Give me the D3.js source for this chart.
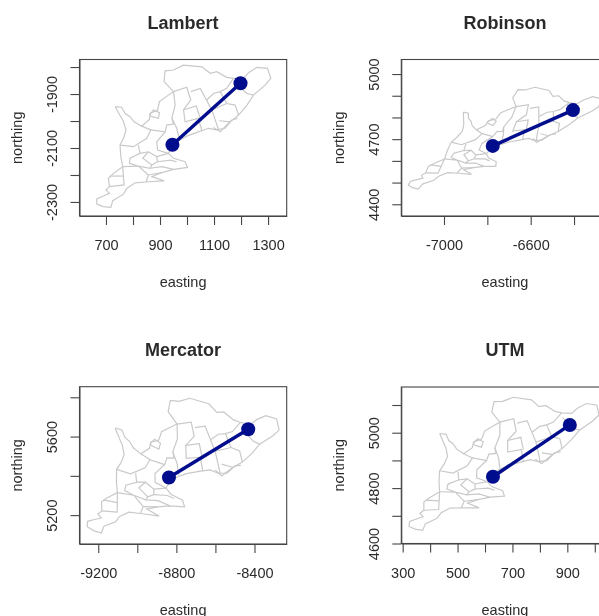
<!DOCTYPE html>
<html>
<head>
<meta charset="utf-8">
<script src="https://cdn.jsdelivr.net/npm/d3@7"></script>
<style>
html, body { margin: 0; padding: 0; background: #fff; overflow: hidden; }
text { font-family: "Liberation Sans", Arial, sans-serif; fill: #2b2b2b; }
</style>
</head>
<body>
<svg id="viz" width="599" height="616"></svg>
<script>
// map, in km (easting, northing)
var coast = [[734,-1947],[758,-1949],[771,-1972],[789,-1984],[804,-2003],[832,-2019],[861,-1994],[863,-1972],[891,-1959],[898,-1928],[931,-1904],[950,-1891],[915,-1854],[919,-1814],[950,-1811],[987,-1793],[1055,-1799],[1086,-1823],[1110,-1817],[1147,-1838],[1172,-1842],[1209,-1842],[1228,-1821],[1259,-1801],[1298,-1805],[1310,-1842],[1289,-1867],[1246,-1904],[1222,-1941],[1191,-1978],[1160,-2003],[1141,-2027],[1110,-2033],[1080,-2027],[1042,-2040],[999,-2056],[968,-2073],[946,-2088],[931,-2120],[950,-2138],[993,-2151],[1002,-2172],[950,-2179],[907,-2191],[870,-2206],[915,-2222],[857,-2225],[808,-2229],[777,-2250],[765,-2271],[725,-2295],[718,-2320],[690,-2317],[666,-2308],[666,-2289],[690,-2278],[713,-2268],[700,-2256],[713,-2243],[709,-2212],[728,-2194],[762,-2169],[755,-2132],[752,-2089],[765,-2064],[774,-2033],[765,-2003],[734,-1947]]
var borders = [
    [[752,-2089],[802,-2095],[851,-2064],[866,-2033],[832,-2019]],
    [[866,-2033],[919,-2040],[925,-2015],[950,-2011],[944,-1990],[956,-1941],[950,-1891]],
    [[950,-1891],[999,-1875],[1014,-1922],[987,-1959],[993,-2003],[1042,-1990],[1055,-2036]],
    [[1014,-1891],[1049,-1879],[1092,-1959],[1117,-2033]],
    [[944,-1990],[962,-2027],[972,-2068]],
    [[987,-1959],[1034,-1944],[1049,-1990]],
    [[1073,-1922],[1098,-1898],[1123,-1891],[1147,-1879],[1172,-1842]],
    [[1123,-1891],[1147,-1935],[1178,-1941],[1191,-1978]],
    [[1092,-1959],[1147,-1935]],
    [[1119,-1999],[1160,-2003]],
    [[1178,-1860],[1222,-1898],[1246,-1904]],
    [[820,-2089],[826,-2120],[789,-2138],[787,-2157],[820,-2167],[762,-2169]],
    [[820,-2167],[857,-2200],[849,-2225]],
    [[826,-2120],[857,-2114],[888,-2132],[891,-2151],[870,-2163],[863,-2175],[820,-2167]],
    [[888,-2132],[931,-2120]],
    [[891,-2151],[938,-2145],[962,-2151]],
    [[863,-2175],[907,-2169],[950,-2179]],
    [[857,-2200],[907,-2191]],
    [[762,-2169],[767,-2237],[713,-2243]],
    [[715,-2204],[765,-2204]],
    [[857,-2114],[836,-2138],[870,-2163]],
    [[919,-2040],[888,-2077],[891,-2108],[931,-2120]],
    [[861,-1978],[876,-1959],[898,-1969],[894,-1990],[870,-1984],[861,-1978]],
    [[1098,-2024],[1123,-2040],[1138,-2024],[1166,-1996],[1187,-1990]]
]
// west tip, east tip, top of the map in the Lambert panel
var lambertAnchors = [[666,-2299],[1310,-1842],[987,-1793]]

var lambertLimitsX = [602,1369]
var lambertLimitsY = [-2352,-1772]
var lambertTicksX = [700,800,900,1000,1100,1200,1300]
var lambertTicksY = [-2300,-2200,-2100,-2000,-1900,-1800]
var lambertLabelsX = [700,900,1100,1300]
var lambertLabelsY = [-2300,-2100,-1900]
var lambertPoints = [[946,-2088],[1198,-1860]]

var robinsonLimitsX = [-7197,-6241]
var robinsonLimitsY = [4346,5067]
var robinsonTicksX = [-7000,-6800,-6600,-6400]
var robinsonTicksY = [4400,4500,4600,4700,4800,4900,5000]
var robinsonLabelsX = [-7000,-6600]
var robinsonLabelsY = [4400,4700,5000]
var robinsonPoints = [[-6775,4669],[-6405,4834]]
var robinsonAnchors = [[-7160,4497],[-6285,4850],[-6580,4939]]

var mercatorLimitsX = [-9296,-8235]
var mercatorLimitsY = [5053,5854]
var mercatorTicksX = [-9200,-9000,-8800,-8600,-8400]
var mercatorTicksY = [5200,5400,5600,5800]
var mercatorLabelsX = [-9200,-8800,-8400]
var mercatorLabelsY = [5200,5600]
var mercatorPoints = [[-8838,5392],[-8432,5637]]
var mercatorAnchors = [[-9256,5154],[-8274,5633],[-8731,5795]]

var utmLimitsX = [295,1050]
var utmLimitsY = [4600,5165]
var utmTicksX = [300,400,500,600,700,800,900,1000]
var utmTicksY = [4600,4700,4800,4900,5000,5100]
var utmLabelsX = [300,500,700,900]
var utmLabelsY = [4600,4800,5000]
var utmPoints = [[629,4841],[909,5028]]
var utmAnchors = [[324,4670],[1015,5064],[703,5128]]

var vizSVG = d3.select("#viz")

var defs = vizSVG.append("defs")
defs.append("filter").attr("id", "soft")
    .attr("x", "-5%").attr("y", "-5%").attr("width", "110%").attr("height", "110%")
    .append("feGaussianBlur").attr("stdDeviation", 0.45)

// returns a function taking a Lambert point to this panel's projection,
// fitted on the three anchors
function fitProjection(to) {
    var a = lambertAnchors
    var ux = a[1][0]-a[0][0], uy = a[1][1]-a[0][1]
    var vx = a[2][0]-a[0][0], vy = a[2][1]-a[0][1]
    var det = ux*vy - vx*uy
    return function(p) {
        var dx = p[0]-a[0][0], dy = p[1]-a[0][1]
        var s = (dx*vy - vx*dy)/det
        var t = (ux*dy - dx*uy)/det
        return [to[0][0] + s*(to[1][0]-to[0][0]) + t*(to[2][0]-to[0][0]),
                to[0][1] + s*(to[1][1]-to[0][1]) + t*(to[2][1]-to[0][1])]
    }
}

function drawPanel(title, box, limitsX, limitsY, ticksX, ticksY, labelsX, labelsY, points, anchors) {
    var x = d3.scaleLinear().domain(limitsX).range([box.left, box.right])
    var y = d3.scaleLinear().domain(limitsY).range([box.bottom, box.top])
    var project = anchors ? fitProjection(anchors) : function(p) { return p }
    var line = d3.line().x(function(d) { return x(d[0]) }).y(function(d) { return y(d[1]) })

    var g = vizSVG.append("g").attr("filter", "url(#soft)")

    g.selectAll("path.map")
        .data([coast].concat(borders))
        .enter().append("path")
        .attr("class", "map")
        .attr("d", function(d) { return line(d.map(project)) })
        .attr("fill", "none")
        .attr("stroke", "#c9c9c9")
        .attr("stroke-width", 1.2)

    g.append("path")
        .attr("d", line(points))
        .attr("stroke", "#00098c")
        .attr("stroke-width", 3.4)
        .attr("fill", "none")

    g.selectAll("circle")
        .data(points)
        .enter().append("circle")
        .attr("cx", function(d) { return x(d[0]) })
        .attr("cy", function(d) { return y(d[1]) })
        .attr("r", 7)
        .attr("fill", "#00098c")

    g.append("rect")
        .attr("x", box.left).attr("y", box.top)
        .attr("width", box.right-box.left).attr("height", box.bottom-box.top)
        .attr("fill", "none")
        .attr("stroke", "#444")
        .attr("stroke-width", 1.1)

    var xAxis = d3.axisBottom(x).tickValues(ticksX).tickSize(9).tickSizeOuter(0).tickPadding(15)
        .tickFormat(function(d) { return labelsX.indexOf(d) >= 0 ? String(d) : "" })
    var yAxis = d3.axisLeft(y).tickValues(ticksY).tickSize(9).tickSizeOuter(0)
        .tickFormat(function(d) { return labelsY.indexOf(d) >= 0 ? String(d) : "" })

    var gx = g.append("g").attr("transform", "translate(0," + box.bottom + ")").call(xAxis)
    var gy = g.append("g").attr("transform", "translate(" + box.left + ",0)").call(yAxis)
    gx.selectAll(".domain").attr("stroke", "#444")
    gy.selectAll(".domain").attr("stroke", "#444")
    gx.selectAll(".tick line").attr("stroke", "#444").attr("stroke-width", 1.1)
    gy.selectAll(".tick line").attr("stroke", "#444").attr("stroke-width", 1.1)
    gx.selectAll("text").style("font-size", "14.5px")
    gy.selectAll("text").style("font-size", "14.5px")
        .attr("text-anchor", "middle")
        .attr("x", 0).attr("y", 0).attr("dy", "0.36em")
        .attr("transform", "translate(-27.5,0) rotate(-90)")

    var midX = (box.left+box.right)/2
    var midY = (box.top+box.bottom)/2
    g.append("text").attr("x", midX).attr("y", box.top-31)
        .attr("text-anchor", "middle")
        .style("font-size", "18px").style("font-weight", "bold")
        .text(title)
    g.append("text").attr("x", midX).attr("y", box.bottom+71)
        .attr("text-anchor", "middle")
        .style("font-size", "14.5px")
        .text("easting")
    g.append("text")
        .attr("transform", "translate(" + (box.left-57.5) + "," + midY + ") rotate(-90)")
        .attr("text-anchor", "middle")
        .style("font-size", "14.5px")
        .text("northing")
}

drawPanel("Lambert", {left: 79.5, right: 286.7, top: 59.5, bottom: 216},
    lambertLimitsX, lambertLimitsY, lambertTicksX, lambertTicksY, lambertLabelsX, lambertLabelsY, lambertPoints, null)
drawPanel("Robinson", {left: 401.3, right: 608.5, top: 59.5, bottom: 216},
    robinsonLimitsX, robinsonLimitsY, robinsonTicksX, robinsonTicksY, robinsonLabelsX, robinsonLabelsY, robinsonPoints, robinsonAnchors)
drawPanel("Mercator", {left: 79.5, right: 286.7, top: 386.7, bottom: 544},
    mercatorLimitsX, mercatorLimitsY, mercatorTicksX, mercatorTicksY, mercatorLabelsX, mercatorLabelsY, mercatorPoints, mercatorAnchors)
drawPanel("UTM", {left: 401.3, right: 608.5, top: 387, bottom: 543.5},
    utmLimitsX, utmLimitsY, utmTicksX, utmTicksY, utmLabelsX, utmLabelsY, utmPoints, utmAnchors)
</script>
</body>
</html>
